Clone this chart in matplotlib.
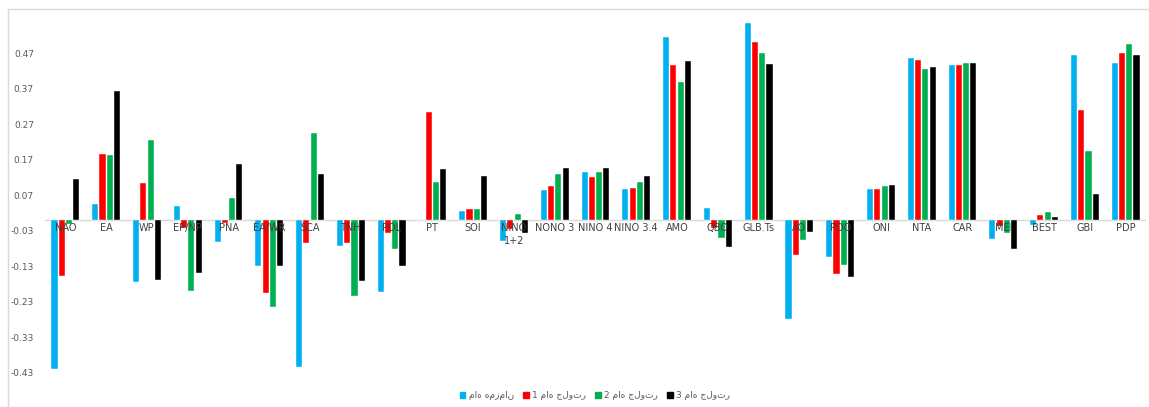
import matplotlib
matplotlib.use("Agg")
import matplotlib.pyplot as plt
from matplotlib.lines import Line2D
import numpy as np

categories = ["NAO", "EA", "WP", "EP/NP", "PNA", "EA/WR", "SCA", "TNH", "POL", "PT",
              "SOI", "NINO\n1+2", "NONO 3", "NINO 4", "NINO 3.4", "AMO", "QBO", "GLB.Ts",
              "AO", "PDO", "ONI", "NTA", "CAR", "MEI", "BEST", "GBI", "PDP"]

lag0 = [-0.420, 0.045, -0.174, 0.039, -0.060, -0.130, -0.414, -0.072, -0.202, 0.000,
        0.025, -0.058, 0.085, 0.136, 0.089, 0.515, 0.034, 0.555,
        -0.279, -0.104, 0.089, 0.458, 0.437, -0.054, -0.012, 0.464, 0.444]
lag1 = [-0.157, 0.186, 0.104, -0.023, -0.008, -0.204, -0.065, -0.063, -0.035, 0.305,
        0.031, -0.025, 0.097, 0.121, 0.091, 0.437, -0.023, 0.503,
        -0.097, -0.151, 0.089, 0.451, 0.437, -0.015, 0.015, 0.310, 0.471]
lag2 = [-0.011, 0.183, 0.225, -0.198, 0.062, -0.243, 0.245, -0.213, -0.082, 0.109,
        0.031, 0.017, 0.130, 0.136, 0.107, 0.389, -0.049, 0.471,
        -0.056, -0.127, 0.097, 0.426, 0.442, -0.035, 0.023, 0.194, 0.496]
lag3 = [0.117, 0.363, -0.169, -0.149, 0.157, -0.129, 0.131, -0.171, -0.129, 0.144,
        0.124, -0.037, 0.146, 0.146, 0.124, 0.447, -0.074, 0.439,
        -0.032, -0.161, 0.100, 0.431, 0.444, -0.082, 0.009, 0.075, 0.464]

series_names = ["ماه همزمان", "1 ماه جلوتر", "2 ماه جلوتر", "3 ماه جلوتر"]
series_colors = ["#00B0F0", "#FF0000", "#00B050", "#000000"]
yticks = [-0.43, -0.33, -0.23, -0.13, -0.03, 0.07, 0.17, 0.27, 0.37, 0.47]

plt.rcParams['font.family'] = ['DejaVu Sans']

fig = plt.figure(figsize=(11.49, 4.07), dpi=100)
W, H = 1149, 407
ax = fig.add_axes([45 / W, 1 - 373 / H, (1146 - 45) / W, (373 - 17.8) / H])

x = np.arange(len(categories))
n = len(categories)
slot = 0.178
bw = 0.15
for k, (vals, name, col) in enumerate(zip([lag0, lag1, lag2, lag3], series_names, series_colors)):
    ax.bar(x + (k - 1.5) * slot, vals, width=bw, color=col, label=name, zorder=2,
           edgecolor="white", linewidth=0.3)

ax.set_xlim(-0.5, n - 0.5)
ax.set_ylim(-0.43, 0.57)
ax.set_yticks(yticks)
ax.set_yticklabels([f"{t:.2f}" for t in yticks], fontsize=6.5, color="#595959")
ax.tick_params(axis="y", length=0, pad=8)
ax.tick_params(axis="x", length=0, labelbottom=False)
for s in ax.spines.values():
    s.set_visible(False)
ax.axhline(0, color="#D9D9D9", linewidth=1.0, zorder=1)

for i, c in enumerate(categories):
    ax.text(i, -0.009, c, ha="center", va="top", fontsize=7, color="#404040",
            zorder=5, linespacing=1.3)

handles = [plt.Rectangle((0, 0), 1, 1, color=c) for c in series_colors]
fig.legend(handles, series_names, loc="center", bbox_to_anchor=(595 / W, 1 - 396 / H),
           ncol=4, frameon=False, fontsize=6.5, handlelength=0.6, handleheight=0.6,
           columnspacing=1.0, handletextpad=0.4, labelcolor="#595959")

# chart border (partly cut off at right and bottom)
fig.add_artist(Line2D([8 / W, 8 / W], [0, 1 - 9 / H], transform=fig.transFigure,
                      color="#D9D9D9", linewidth=1.0))
fig.add_artist(Line2D([8 / W, 1], [1 - 9 / H, 1 - 9 / H], transform=fig.transFigure,
                      color="#D9D9D9", linewidth=1.0))

fig.savefig("out.png", dpi=100)
